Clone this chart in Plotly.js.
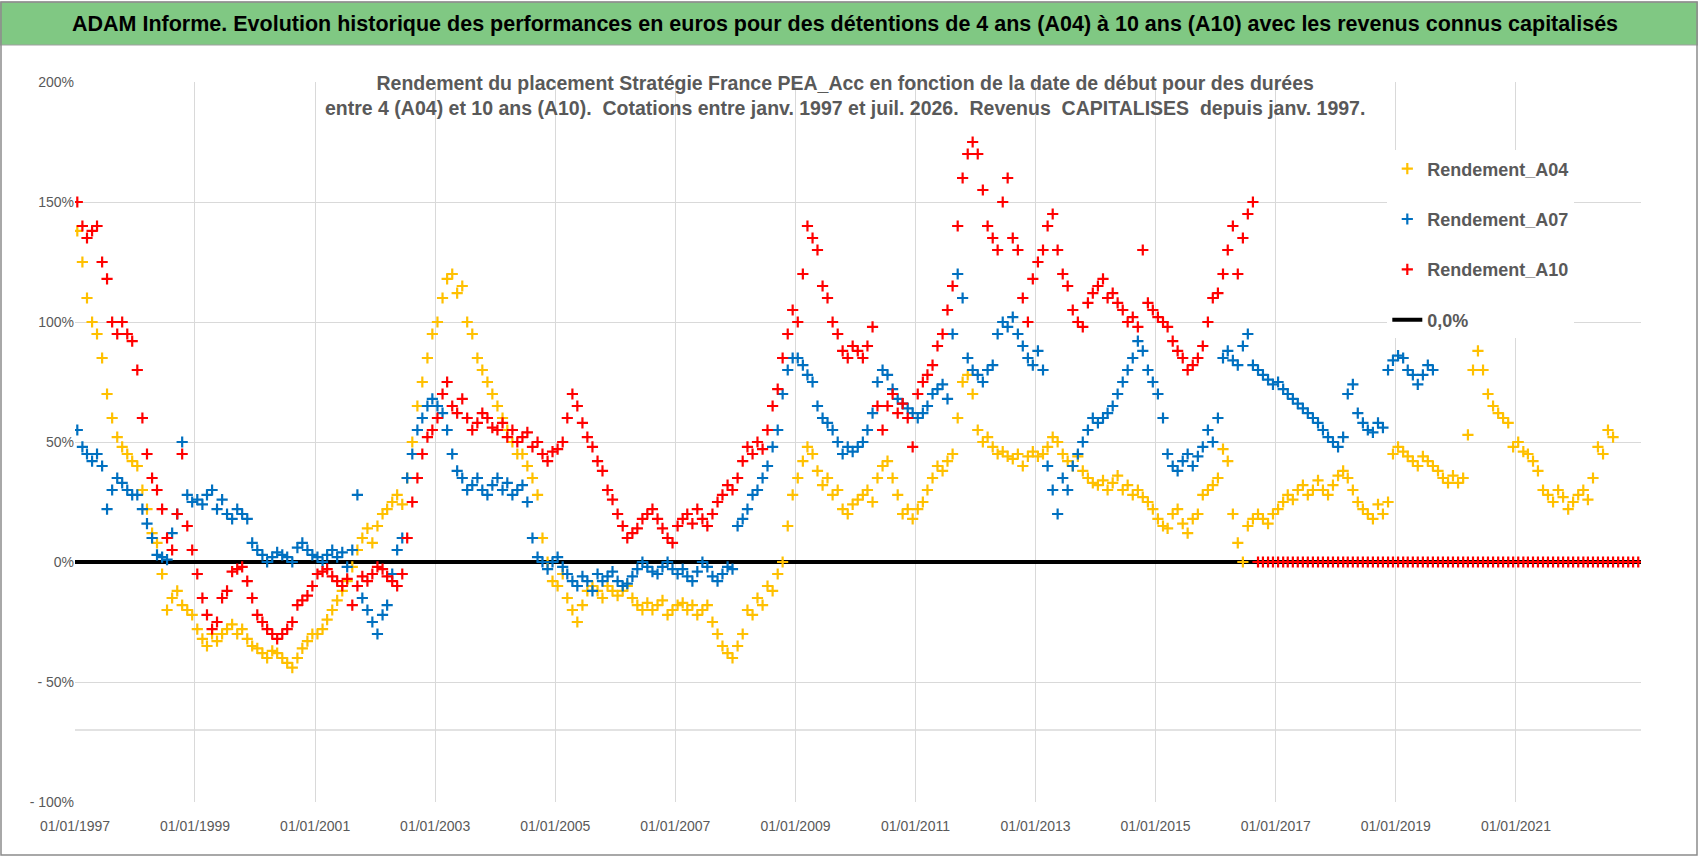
<!DOCTYPE html>
<html>
<head>
<meta charset="utf-8">
<script src="https://cdn.plot.ly/plotly-3.0.1.min.js"></script>
<style>
  body { margin: 0; background: #fff; }
  #chart { width: 1698px; height: 856px; }
</style>
</head>
<body>
<div id="chart"></div>
<script>
// Rendements mensuels (en %), à partir de janv. 1997
const START_YEAR = 1997;

const rendementA04 = [
  138,125,110,100,95,85,70,60,52,48,45,42,
  40,30,22,12,8,-5,-20,-15,-12,-18,-20,-22,
  -28,-32,-35,-30,-33,-30,-28,-26,-30,-28,-32,-35,
  -36,-38,-40,-37,-38,-40,-42,-44,-40,-36,-33,-30,
  -30,-28,-24,-20,-16,-12,-8,-2,5,10,14,8,
  15,20,22,25,28,24,35,50,65,75,85,95,
  100,110,118,120,112,115,100,95,85,80,75,70,
  65,60,55,50,45,45,40,35,28,10,0,-8,
  -10,-5,-15,-20,-25,-18,-12,-10,-12,-15,-10,-12,
  -14,-12,-10,-15,-18,-20,-17,-20,-18,-16,-22,-20,
  -18,-17,-20,-18,-22,-20,-18,-25,-30,-35,-38,-40,
  -35,-30,-20,-22,-15,-18,-10,-12,-5,0,15,28,
  35,42,48,45,38,32,35,28,30,22,20,24,
  26,28,30,25,35,40,42,35,28,20,22,18,
  22,25,30,35,40,38,42,45,60,75,78,70,
  55,50,52,48,45,46,44,43,45,40,44,46,
  44,45,48,52,50,45,42,40,44,38,35,33,
  32,34,30,33,36,30,32,28,30,27,25,22,
  18,15,14,20,22,16,12,18,20,28,30,32,
  35,47,42,20,8,0,15,18,20,18,16,20,
  22,25,28,26,30,32,28,30,34,30,28,32,
  36,38,35,30,25,22,20,18,24,20,25,45,
  48,46,44,42,40,44,42,40,38,35,33,36,
  33,35,53,80,88,80,70,65,62,60,58,48,
  50,46,45,42,38,30,28,25,30,27,22,25,
  28,30,26,35,48,45,55,52
];

const rendementA07 = [
  55,48,45,42,45,40,22,30,35,33,30,28,
  28,22,16,10,3,2,1,12,20,50,28,25,
  26,24,28,30,22,26,20,18,22,20,18,8,
  5,3,0,2,4,3,2,0,6,8,5,3,
  2,0,3,5,2,4,-2,5,28,-15,-20,-25,
  -30,-22,-18,-5,5,10,35,45,55,60,65,68,
  65,62,55,45,38,35,30,32,35,30,28,32,
  35,30,33,28,30,32,25,10,2,0,-3,0,
  2,-2,-5,-8,-10,-6,-8,-12,-5,-8,-6,-4,
  -8,-10,-9,-6,-3,0,-2,-4,-5,-2,0,-3,
  -5,-3,-6,-8,-4,0,-2,-6,-8,-5,-2,-3,
  15,18,22,28,30,35,40,48,55,70,80,85,
  85,82,78,75,65,60,58,55,50,45,48,46,
  48,50,55,62,75,80,78,72,68,66,64,62,
  60,62,65,70,72,74,68,95,120,110,85,80,
  78,75,80,82,95,100,98,102,95,90,85,82,
  88,80,40,30,20,35,30,40,45,50,55,60,
  58,60,62,65,70,75,80,85,92,88,80,75,
  70,60,45,40,38,42,45,40,44,48,55,50,
  60,85,88,84,82,90,95,82,80,78,76,74,
  75,72,70,68,66,64,62,60,58,55,52,50,
  48,52,70,74,62,58,55,54,58,56,80,84,
  86,85,80,78,74,78,82,80
];

const rendementA10 = [
  150,140,135,138,140,125,118,100,95,100,95,92,
  80,60,45,35,30,22,10,5,20,45,15,5,
  -5,-15,-22,-28,-25,-15,-12,-4,-3,-2,-8,-15,
  -22,-25,-28,-30,-32,-30,-28,-25,-18,-16,-14,-10,
  -5,-4,-3,-6,-8,-10,-7,-18,-10,-6,-8,-5,
  -2,-3,-6,-8,-10,-5,10,25,35,45,52,55,
  60,70,75,65,62,68,60,55,58,62,60,56,
  55,58,52,55,50,52,54,48,50,45,42,46,
  47,50,60,70,65,58,52,48,42,38,30,26,
  20,15,10,12,14,18,20,22,18,14,10,8,
  15,18,20,16,22,18,15,20,25,28,32,30,
  35,42,48,45,50,47,55,65,72,85,95,105,
  100,120,140,135,130,115,110,100,95,88,85,90,
  88,85,90,98,65,55,65,70,62,66,60,48,
  70,75,78,82,90,95,105,115,140,160,170,175,
  170,155,140,135,130,150,160,135,130,110,100,118,
  125,130,140,145,130,120,115,105,100,98,108,112,
  115,118,110,112,108,105,100,102,98,130,108,105,
  102,100,98,92,88,85,80,82,85,90,100,110,
  112,120,130,140,120,135,145,150,
  // au-delà de 10 ans de recul : rendement à 0
  0,0,0,0,
  0,0,0,0,0,0,0,0,0,0,0,0,
  0,0,0,0,0,0,0,0,0,0,0,0,
  0,0,0,0,0,0,0,0,0,0,0,0,
  0,0,0,0,0,0,0,0,0,0,0,0,
  0,0,0,0,0,0,0,0,0,0,0,0,
  0,0,0,0,0,0,0,0,0,0,0,0,
  0
];

const yTicks = [200, 150, 100, 50, 0, -50, -100];
const yTickText = ['200%', '150%', '100%', '50%', '0%', '- 50%', '- 100%'];
const xTickYears = [1997,1999,2001,2003,2005,2007,2009,2011,2013,2015,2017,2019,2021];

function monthDates(n) {
  const out = [];
  for (let i = 0; i < n; i++) {
    const y = START_YEAR + Math.floor(i / 12);
    const m = (i % 12) + 1;
    out.push(y + '-' + String(m).padStart(2, '0') + '-15');
  }
  return out;
}

const FONT = '"Liberation Sans", Arial, sans-serif';

function serie(name, values, color, rank) {
  return {
    type: 'scatter', mode: 'markers', name: name,
    x: monthDates(values.length), y: values,
    marker: { symbol: 'cross-thin', size: 8, line: { color: color, width: 2.2 }, color: color },
    legendgroup: name, legendrank: rank
  };
}

const data = [
  {
    type: 'scatter', mode: 'lines', name: '0,0%',
    x: ['1997-01-01', '2023-02-01'], y: [0, 0],
    line: { color: '#000', width: 4 },
    legendgroup: 'zero', legendrank: 4
  },
  serie('Rendement_A04', rendementA04, '#ffc000', 1),
  serie('Rendement_A07', rendementA07, '#0070c0', 2),
  serie('Rendement_A10', rendementA10, '#ff0000', 3)
];

const layout = {
  width: 1698, height: 856,
  margin: { l: 75, r: 57, t: 82, b: 54 },
  paper_bgcolor: '#fff', plot_bgcolor: '#fff',
  font: { family: FONT, color: '#595959', size: 14 },
  showlegend: true,
  legend: {
    x: 0.838, y: 0.905, xanchor: 'left', yanchor: 'top',
    bgcolor: '#fff', font: { size: 18, color: '#595959', weight: 'bold' },
    tracegroupgap: 24, itemwidth: 30
  },
  xaxis: {
    type: 'date', range: ['1997-01-01', '2023-02-01'],
    tickvals: xTickYears.map(y => y + '-01-01'),
    ticktext: xTickYears.map(y => '01/01/' + y),
    showgrid: true, gridcolor: '#d9d9d9', zeroline: false,
    showline: false, ticks: '', ticklabelstandoff: 14,
    tickfont: { size: 14, color: '#595959' }
  },
  yaxis: {
    range: [-100, 200], tickvals: yTicks, ticktext: yTickText,
    showgrid: true, gridcolor: '#d9d9d9', zeroline: false,
    ticks: '', tickfont: { size: 14, color: '#595959' }
  },
  shapes: [
    // ligne grise isolée à -70 %
    { type: 'line', xref: 'paper', x0: 0, x1: 1, yref: 'y', y0: -70, y1: -70,
      line: { color: '#d9d9d9', width: 1.5 }, layer: 'below' },
    // bandeau vert du titre
    { type: 'rect', xref: 'paper', yref: 'paper',
      x0: -75 / 1566, x1: 1623 / 1566, y0: (802 - 45) / 720, y1: (802 - 2) / 720,
      fillcolor: '#80c883', line: { color: '#a0a0a0', width: 1 } },
    // cadre extérieur
    { type: 'rect', xref: 'paper', yref: 'paper',
      x0: -74 / 1566, x1: 1622 / 1566, y0: -53 / 720, y1: (802 - 2) / 720,
      line: { color: '#8c8c8c', width: 1.5 } }
  ],
  annotations: [
    { xref: 'paper', yref: 'paper', x: (845 - 75) / 1566, y: (802 - 24) / 720,
      xanchor: 'center', yanchor: 'middle', showarrow: false,
      text: '<b>ADAM Informe. Evolution historique des performances en euros pour des détentions de 4 ans (A04) à 10 ans (A10) avec les revenus connus capitalisés</b>',
      font: { size: 21.5, color: '#000', family: FONT } },
    { xref: 'paper', yref: 'paper', x: (845 - 75) / 1566, y: (802 - 95) / 720,
      xanchor: 'center', yanchor: 'middle', showarrow: false, align: 'center',
      text: '<b>Rendement du placement Stratégie France PEA_Acc en fonction de la date de début pour des durées<br>entre 4 (A04) et 10 ans (A10).  Cotations entre janv. 1997 et juil. 2026.  Revenus  CAPITALISES  depuis janv. 1997.</b>',
      font: { size: 19.5, color: '#595959', family: FONT } }
  ]
};

Plotly.newPlot('chart', data, layout, { displayModeBar: false, staticPlot: true });
</script>
</body>
</html>
